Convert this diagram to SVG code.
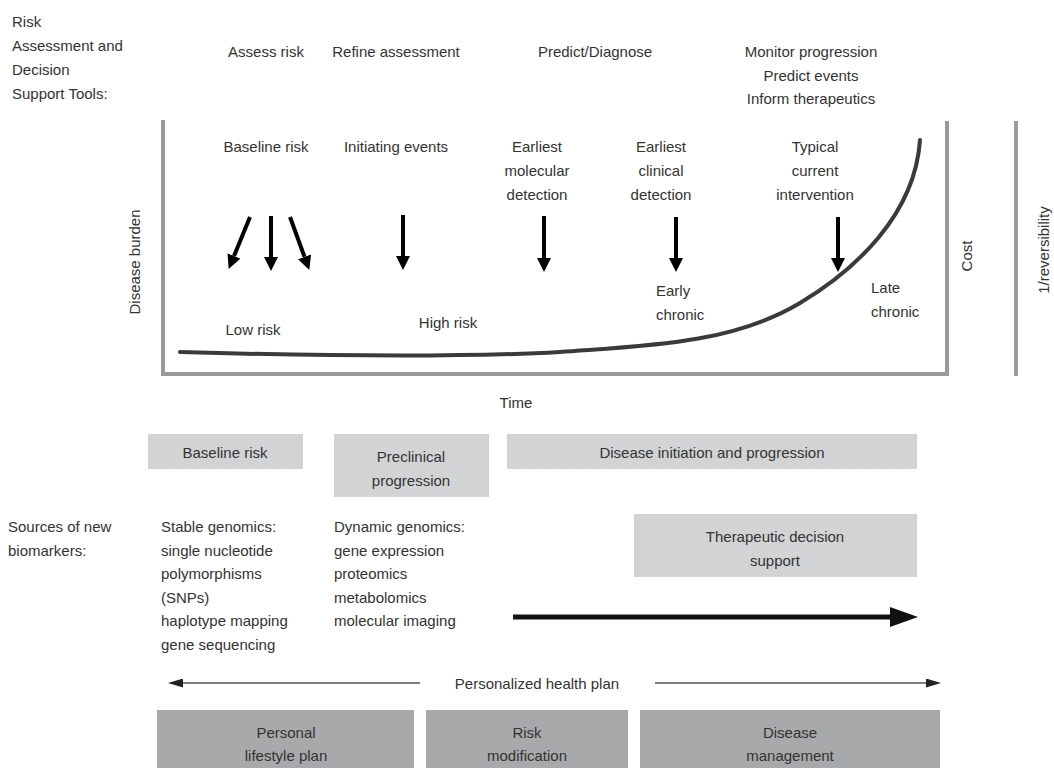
<svg xmlns="http://www.w3.org/2000/svg" width="1054" height="768" viewBox="0 0 1054 768">
  <style>
    text { font-family: "Liberation Sans", Arial, sans-serif; font-size: 15px; fill: #333; }
    .c { text-anchor: middle; }
    .axis { fill: none; stroke: #9a9a9a; stroke-width: 4; }
    .curve { fill: none; stroke: #3a3a3a; stroke-width: 4; stroke-linecap: round; }
    .down { stroke: #000; stroke-width: 4; fill: none; }
    .thin { stroke: #555; stroke-width: 1.4; fill: none; }
    .thick { stroke: #111; stroke-width: 5; fill: none; }
    .light { fill: #d2d3d5; }
    .dark { fill: #a8a9ab; }
  </style>
  <defs>
    <marker id="headDown" markerUnits="userSpaceOnUse" markerWidth="14" markerHeight="14" viewBox="0 0 14 14" refX="0" refY="7" orient="auto">
      <path d="M0,0 L14,7 L0,14 z" fill="#000"/>
    </marker>
    <marker id="headThick" markerUnits="userSpaceOnUse" markerWidth="28" markerHeight="20" viewBox="0 0 28 20" refX="0" refY="10" orient="auto">
      <path d="M0,0 L28,10 L0,20 z" fill="#111"/>
    </marker>
    <marker id="headThin" markerUnits="userSpaceOnUse" markerWidth="15" markerHeight="9" viewBox="0 0 15 9" refX="0" refY="4.5" orient="auto">
      <path d="M0,0 L15,4.5 L0,9 z" fill="#222"/>
    </marker>
  </defs>

  <!-- left-hand row headings -->
  <g id="tools-heading">
    <text x="12" y="27">Risk</text>
    <text x="12" y="51">Assessment and</text>
    <text x="12" y="75">Decision</text>
    <text x="12" y="99">Support Tools:</text>
  </g>

  <!-- decision-support tools per stage -->
  <g id="tool-assess"><text class="c" x="266" y="57">Assess risk</text></g>
  <g id="tool-refine"><text class="c" x="396" y="57">Refine assessment</text></g>
  <g id="tool-predict"><text class="c" x="595" y="57">Predict/Diagnose</text></g>
  <g id="tool-monitor">
    <text class="c" x="811" y="57">Monitor progression</text>
    <text class="c" x="811" y="81">Predict events</text>
    <text class="c" x="811" y="104">Inform therapeutics</text>
  </g>

  <!-- chart frame -->
  <g id="chart-axes">
    <polyline class="axis" points="163,120 163,374 947,374 947,121"/>
    <line class="axis" x1="1016" y1="121" x2="1016" y2="376"/>
    <text class="c" transform="translate(140,262) rotate(-90)">Disease burden</text>
    <text class="c" transform="translate(972,256) rotate(-90)">Cost</text>
    <text class="c" transform="translate(1049,250) rotate(-90)">1/reversibility</text>
    <text class="c" x="516" y="408">Time</text>
  </g>

  <!-- disease burden over time -->
  <g id="burden-curve">
    <path class="curve" d="M180,352 C320,356 470,357 560,352 C640,346 730,345 800,303 C855,270 915,215 920,140"/>
  </g>

  <!-- events along the timeline -->
  <g id="event-baseline"><text class="c" x="266" y="152">Baseline risk</text></g>
  <g id="event-initiating"><text class="c" x="396" y="152">Initiating events</text></g>
  <g id="event-molecular">
    <text class="c" x="537" y="152">Earliest</text>
    <text class="c" x="537" y="176">molecular</text>
    <text class="c" x="537" y="200">detection</text>
  </g>
  <g id="event-clinical">
    <text class="c" x="661" y="152">Earliest</text>
    <text class="c" x="661" y="176">clinical</text>
    <text class="c" x="661" y="200">detection</text>
  </g>
  <g id="event-intervention">
    <text class="c" x="815" y="152">Typical</text>
    <text class="c" x="815" y="176">current</text>
    <text class="c" x="815" y="200">intervention</text>
  </g>

  <!-- stage labels on the curve -->
  <g id="stage-low"><text class="c" x="253" y="335">Low risk</text></g>
  <g id="stage-high"><text class="c" x="448" y="328">High risk</text></g>
  <g id="stage-early">
    <text x="656" y="296">Early</text>
    <text x="656" y="320">chronic</text>
  </g>
  <g id="stage-late">
    <text x="871" y="293">Late</text>
    <text x="871" y="317">chronic</text>
  </g>

  <!-- phase bands -->
  <g id="phase-baseline">
    <rect class="light" x="148" y="434" width="155" height="35"/>
    <text class="c" x="225" y="458">Baseline risk</text>
  </g>
  <g id="phase-preclinical">
    <rect class="light" x="334" y="434" width="155" height="63"/>
    <text class="c" x="411" y="462">Preclinical</text>
    <text class="c" x="411" y="486">progression</text>
  </g>
  <g id="phase-disease">
    <rect class="light" x="507" y="434" width="410" height="35"/>
    <text class="c" x="712" y="458">Disease initiation and progression</text>
  </g>
  <g id="phase-therapeutic">
    <rect class="light" x="634" y="514" width="283" height="63"/>
    <text class="c" x="775" y="542">Therapeutic decision</text>
    <text class="c" x="775" y="566">support</text>
  </g>

  <!-- biomarker sources -->
  <g id="biomarkers-heading">
    <text x="8" y="532">Sources of new</text>
    <text x="8" y="556">biomarkers:</text>
  </g>
  <g id="biomarkers-stable">
    <text x="161" y="532">Stable genomics:</text>
    <text x="161" y="555.5">single nucleotide</text>
    <text x="161" y="579">polymorphisms</text>
    <text x="161" y="602.5">(SNPs)</text>
    <text x="161" y="626">haplotype mapping</text>
    <text x="161" y="649.5">gene sequencing</text>
  </g>
  <g id="biomarkers-dynamic">
    <text x="334" y="532">Dynamic genomics:</text>
    <text x="334" y="555.5">gene expression</text>
    <text x="334" y="579">proteomics</text>
    <text x="334" y="602.5">metabolomics</text>
    <text x="334" y="626">molecular imaging</text>
  </g>

  <!-- health plan -->
  <g id="health-plan-label"><text class="c" x="537" y="689">Personalized health plan</text></g>
  <g id="plan-lifestyle">
    <rect class="dark" x="157" y="710" width="257" height="58"/>
    <text class="c" x="286" y="738">Personal</text>
    <text class="c" x="286" y="761">lifestyle plan</text>
  </g>
  <g id="plan-risk">
    <rect class="dark" x="426" y="710" width="202" height="58"/>
    <text class="c" x="527" y="738">Risk</text>
    <text class="c" x="527" y="761">modification</text>
  </g>
  <g id="plan-disease">
    <rect class="dark" x="640" y="710" width="300" height="58"/>
    <text class="c" x="790" y="738">Disease</text>
    <text class="c" x="790" y="761">management</text>
  </g>

  <!-- connectors -->
  <g id="connectors">
    <line class="down" x1="250" y1="217" x2="234" y2="256" marker-end="url(#headDown)"/>
    <line class="down" x1="271" y1="216" x2="271" y2="257" marker-end="url(#headDown)"/>
    <line class="down" x1="290" y1="217" x2="304.5" y2="256.8" marker-end="url(#headDown)"/>
    <line class="down" x1="403" y1="215" x2="403" y2="256" marker-end="url(#headDown)"/>
    <line class="down" x1="544" y1="216" x2="544" y2="258" marker-end="url(#headDown)"/>
    <line class="down" x1="676" y1="217" x2="676" y2="258" marker-end="url(#headDown)"/>
    <line class="down" x1="838" y1="217" x2="838" y2="258" marker-end="url(#headDown)"/>
    <line class="thick" x1="513" y1="617" x2="890" y2="617" marker-end="url(#headThick)"/>
    <line class="thin" x1="420" y1="683" x2="183" y2="683" marker-end="url(#headThin)"/>
    <line class="thin" x1="655" y1="683" x2="926" y2="683" marker-end="url(#headThin)"/>
  </g>
</svg>
